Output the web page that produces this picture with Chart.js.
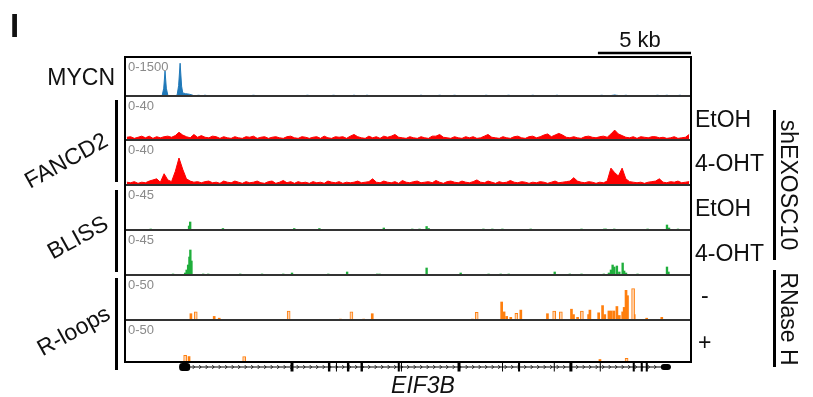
<!DOCTYPE html>
<html><head><meta charset="utf-8">
<script src="https://cdn.jsdelivr.net/npm/chart.js@4/dist/chart.umd.min.js"></script>
<style>
html,body{margin:0;padding:0;background:#fff;}
#wrap{position:relative;width:813px;height:397px;overflow:hidden;font-family:"Liberation Sans",Arial,Helvetica,sans-serif;color:#111;}
#c{position:absolute;left:0;top:0;}
.lbl{position:absolute;font-size:23px;line-height:23px;white-space:nowrap;}
.rotl{transform-origin:100% 50%;transform:rotate(-29deg);}
.rotr{transform:translate(-50%,-50%) rotate(90deg);}
.brk{position:absolute;background:#000;width:3px;}
.rng{position:absolute;font-size:13px;line-height:13px;color:#8a8a8a;white-space:nowrap;}
</style></head>
<body><div id="wrap">
<canvas id="c" width="813" height="397"></canvas>
<div class="lbl" style="left:10px;top:9px;font-size:33px;line-height:33px;font-weight:bold;">I</div>
<div class="lbl" style="left:640px;top:29px;font-size:22px;line-height:22px;transform:translateX(-50%);">5 kb</div>
<div class="lbl" style="right:698px;top:65.5px;">MYCN</div>
<div class="lbl rotl" style="right:707px;top:126.5px;">FANCD2</div>
<div class="lbl rotl" style="right:707px;top:209.5px;">BLISS</div>
<div class="lbl rotl" style="right:705px;top:299.5px;">R-loops</div>
<div class="lbl" style="left:695px;top:107.5px;">EtOH</div>
<div class="lbl" style="left:695px;top:152px;">4-OHT</div>
<div class="lbl" style="left:695px;top:197px;">EtOH</div>
<div class="lbl" style="left:695px;top:242px;">4-OHT</div>
<div class="lbl" style="left:701px;top:284px;">-</div>
<div class="lbl" style="left:698px;top:331px;">+</div>
<div class="lbl rotr" style="left:788px;top:185px;">shEXOSC10</div>
<div class="lbl rotr" style="left:788px;top:319px;">RNase H</div>
<div class="lbl" style="left:423px;top:374px;font-style:italic;transform:translateX(-50%);">EIF3B</div>
<div class="brk" style="left:115px;top:100px;height:82px;"></div>
<div class="brk" style="left:115px;top:190px;height:82px;"></div>
<div class="brk" style="left:115px;top:278px;height:92px;"></div>
<div class="brk" style="left:773px;top:110px;height:150px;"></div>
<div class="brk" style="left:773px;top:270px;height:97px;"></div>
</div>
<script>
// ---------- data ----------
const regionKb = 30.4;
const scaleBarKb = 5;
const trackIds = ['yMycn','yFancEtoh','yFancOht','yBlissEtoh','yBlissOht','yRlMinus','yRlPlus'];
const trackMax = [1500, 40, 40, 45, 45, 50, 50];
const rangeLabels = ['0-1500','0-40','0-40','0-45','0-45','0-50','0-50'];

const mycnPos = [0, 1.90, 2.00, 2.08, 2.15, 2.22, 2.30, 2.40, 2.70, 2.80, 2.88, 2.96, 3.04, 3.10, 3.25, 3.45, 3.60, 3.75, 30.4];
const mycnVal = [0, 0, 30, 300, 960, 300, 30, 0, 0, 40, 400, 1260, 380, 120, 90, 70, 40, 0, 0];
const mycnSpeckPos = [3.95, 4.3, 6.9, 9.8, 11.2, 12.3, 13.0, 15.9, 16.9, 17.7, 19.4, 20.6, 21.9, 23.2, 25.6, 26.2, 26.3, 26.4, 26.9, 28.6, 29.1, 29.8];
const mycnSpeckVal = [40, 40, 40, 40, 40, 40, 40, 40, 40, 40, 40, 40, 40, 40, 40, 40, 60, 40, 40, 40, 40, 40];

const fancBinKb = 0.2;
const fancEtoh = [
 2.5,3,1.5,2.5,3.5,2,3.5,1.5,3,2,
 3,3.5,2.5,4,7,4.5,3,2,5,2.5,
 4,2.5,2,3.5,3,1.5,3,2,1.5,3,
 2,1.5,3,2.5,3.5,1.5,2.5,3,1.5,2.5,
 3,2,1.5,3,3.5,2,1.5,3,2.5,1.5,
 2.5,3,1.5,3.5,2,1.5,3,2.5,3,1.5,
 3.5,5,3,2,1.5,3.5,2,3,1.5,3.5,
 2.5,3.5,5,2.5,2,1.5,3,2,1.5,3,
 2,1.5,3.5,3.5,5,2.5,2,1.5,3,2,
 1.5,3,2,3,1.5,2,3.5,5,2.5,2,
 1.5,3,2,1.5,3,3.5,2,1.5,3,3.5,
 2,3,4.5,5.5,3,4.5,6,4.5,2.5,2,
 3,2,1.5,3,3.5,2.5,2,3,3.5,2.5,
 5.5,9,5.5,4,2.5,2,3,1.5,3,2.5,
 2,3,3,2,2.5,1.5,2,3,1.5,2,2.5,5];
const fancOht = [
 2.5,2,3,1.5,2.5,2,3.5,4.5,5.5,2.5,
 10,4.5,3,12,24,14,5.5,3.5,2.5,3,
 2,3,3.5,2,2.5,1.5,3.5,2.5,2,3.5,
 2.5,1.5,3,2,2.5,3.5,2,1.5,3,3.5,
 1.5,2.5,4,2,3,1.5,3,2,2.5,1.5,
 3,2,2.5,1.5,3.5,2.5,2,3,1.5,2.5,
 2,2.5,3.5,2,2.5,3,5.5,2.5,2,3.5,
 2.5,2,3,1.5,4,2.5,2,3,3.5,2,
 2.5,3,2,4,2.5,1.5,3,3.5,2.5,2,
 3.5,2.5,2,3,4.5,2.5,2,3.5,2.5,1.5,
 3,2,2.5,4,2.5,2,3,2.5,1.5,2.5,
 2,3,2.5,1.5,2.5,3.5,2,2.5,3,3.5,
 6.5,3.5,2.5,2,3,2.5,1.5,2.5,2,3.5,
 15,11,8,15,5.5,3,2.5,2,2.5,1.5,
 2.5,3,3.5,5.5,2.5,2,3,2.5,3.5,2,2.5,3];

const blissEtohPos = [1.38, 3.44, 3.50, 5.26, 9.09, 10.44, 13.90, 15.43, 15.82, 16.20, 16.31, 19.25, 19.73, 20.27, 21.79, 24.52, 25.74, 25.83, 26.28, 28.07, 29.11, 29.22, 29.70];
const blissEtohVal = [1, 4, 8, 1.5, 1.5, 1.5, 2, 1, 1, 3.5, 1.5, 1, 1, 1, 1, 1, 1, 1, 1, 1, 5, 2, 1];
const blissOhtPos = [2.58, 3.23, 3.31, 3.39, 3.46, 3.51, 3.57, 4.20, 4.47, 6.19, 7.36, 8.50, 8.97, 10.92, 11.93, 13.54, 13.67, 16.20, 18.03, 19.53, 20.18, 20.61, 23.08, 23.89, 24.52, 25.72, 25.99, 26.10, 26.19, 26.28, 26.42, 26.55, 26.73, 26.81, 26.91, 27.53, 29.11, 29.19];
const blissOhtVal = [1, 2, 5, 10, 18, 25, 14, 1, 1, 1, 1, 1, 2, 1, 3, 1, 1, 7, 2, 1, 1, 1, 3, 1, 1, 1, 2, 5, 10, 8, 9, 3, 12, 4, 2, 1, 8, 3];

const rlMinusSolidPos = [3.54, 4.79, 5.06, 11.57, 12.82, 13.28, 18.66, 20.23, 20.36, 20.50, 20.72, 21.26, 22.69, 23.98, 24.09, 24.31, 24.90, 24.97, 25.44, 25.65, 25.77, 25.99, 26.12, 26.26, 26.42, 26.55, 26.73, 26.81, 26.91, 26.99, 27.35, 28.02, 28.83];
const rlMinusSolidVal = [7, 4, 2, 1, 1, 7, 1, 20, 9, 4, 3, 11, 7, 12, 6, 3, 6, 11, 8, 16, 6, 10, 10, 10, 15, 5, 9, 14, 33, 27, 6, 2, 3];
const rlMinusLightPos = [3.80, 8.79, 12.16, 18.89, 21.02, 23.05, 23.41, 24.54, 27.29];
const rlMinusLightVal = [9, 10, 9, 8.5, 7.5, 10, 9, 10, 35];
const rlPlusSolidPos = [3.44, 25.51];
const rlPlusSolidVal = [6.5, 3];
const rlPlusLightPos = [3.23, 6.40, 26.94];
const rlPlusLightVal = [8, 6.5, 4.5];

const geneStartKb = 2.91, geneEndKb = 29.32;
const geneUtr = [[2.91, 3.50], [28.78, 29.32]];
const geneExons = [[8.89,9.05],[10.90,11.03],[11.33,11.38],[11.92,12.05],[12.65,12.78],[14.65,14.76],[14.82,14.87],[17.86,18.02],[20.25,20.30],[21.11,21.22],[23.03,23.08],[23.87,24.03],[25.50,25.55],[27.27,27.38],[27.70,27.81],[27.97,28.08]];

// ---------- build ----------
const pts = (xs, ys) => xs.map((x, i) => ({x, y: ys[i]}));
const binPts = arr => arr.map((v, i) => ({x: (i + 0.5) * fancBinKb, y: v}));
const trackWeights = [39, 44, 45, 45, 45, 45, 42];

const BLUE = '#1f78b8', RED = '#ff0000', GREEN = '#1fae3c', ORANGE = '#ff7f0e', LIGHT = '#ffd3ae';

function lineDs(data, axis, color){
  return {type:'line', data, yAxisID:axis, borderColor:color, backgroundColor:color, borderWidth:1, pointRadius:0, tension:0, fill:'origin'};
}
function barDs(data, axis, color, thick, border){
  return {type:'bar', data, yAxisID:axis, backgroundColor:color, borderColor:border || color, borderWidth:border ? 1 : 0, barThickness:thick, borderSkipped:'start'};
}

const datasets = [
  lineDs(pts(mycnPos, mycnVal), 'yMycn', BLUE),
  barDs(pts(mycnSpeckPos, mycnSpeckVal), 'yMycn', '#7fb3d8', 1.5),
  lineDs(binPts(fancEtoh), 'yFancEtoh', RED),
  lineDs(binPts(fancOht), 'yFancOht', RED),
  barDs(pts(blissEtohPos, blissEtohVal), 'yBlissEtoh', GREEN, 1.7),
  barDs(pts(blissOhtPos, blissOhtVal), 'yBlissOht', GREEN, 1.7),
  barDs(pts(rlMinusLightPos, rlMinusLightVal), 'yRlMinus', LIGHT, 3, ORANGE),
  barDs(pts(rlMinusSolidPos, rlMinusSolidVal), 'yRlMinus', ORANGE, 2),
  barDs(pts(rlPlusLightPos, rlPlusLightVal), 'yRlPlus', LIGHT, 3, ORANGE),
  barDs(pts(rlPlusSolidPos, rlPlusSolidVal), 'yRlPlus', ORANGE, 2)
];

const scales = {x:{type:'linear', min:0, max:regionKb, display:false, offset:false, stacked:true}};
trackIds.forEach((id, i) => {
  scales[id] = {type:'linear', position:'right', stack:'tracks', stackWeight:trackWeights[i], min:0, max:trackMax[i], display:false};
});

const trackFrame = {
  id:'trackFrame',
  afterDatasetsDraw(chart){
    const ctx = chart.ctx, a = chart.chartArea, xs = chart.scales.x;
    const px = v => xs.getPixelForValue(v);
    ctx.save();
    ctx.strokeStyle = '#333'; ctx.lineWidth = 2;
    trackIds.slice(0, -1).forEach(id => {
      const y = chart.scales[id].bottom;
      ctx.beginPath(); ctx.moveTo(a.left, y); ctx.lineTo(a.right, y); ctx.stroke();
    });
    ctx.strokeStyle = '#000'; ctx.lineWidth = 2;
    ctx.strokeRect(a.left, a.top, a.right - a.left, a.bottom - a.top);
    // scale bar
    ctx.lineWidth = 2.5;
    ctx.beginPath(); ctx.moveTo(px(regionKb - scaleBarKb), a.top - 4); ctx.lineTo(px(regionKb), a.top - 4); ctx.stroke();
    // gene model
    const gy = a.bottom + 5;
    const g0 = px(geneStartKb), g1 = px(geneEndKb);
    ctx.fillStyle = '#000';
    ctx.fillRect(g0, gy - 0.5, g1 - g0, 1);
    ctx.lineWidth = 0.8; ctx.strokeStyle = '#000';
    for (let x = g0 + 15; x < g1 - 12; x += 6.5) {
      ctx.beginPath(); ctx.moveTo(x - 1.5, gy - 2); ctx.lineTo(x + 0.5, gy); ctx.lineTo(x - 1.5, gy + 2); ctx.stroke();
    }
    geneUtr.forEach(([s, e], k) => {
      const h = k === 0 ? 8 : 6;
      ctx.beginPath(); ctx.roundRect(px(s), gy - h / 2, px(e) - px(s), h, 3); ctx.fill();
    });
    geneExons.forEach(([s, e]) => {
      const x0 = px(s), w = Math.max(1, px(e) - x0);
      ctx.fillRect(x0, gy - 4.5, w, 9);
    });
    ctx.restore();
  }
};

const chart = new Chart(document.getElementById('c'), {
  type:'line',
  data:{datasets},
  options:{
    responsive:false, animation:false, devicePixelRatio:1, events:[],
    layout:{padding:{left:125, right:122, top:57, bottom:35}},
    plugins:{legend:{display:false}, tooltip:{enabled:false}},
    scales
  },
  plugins:[trackFrame]
});

const wrap = document.getElementById('wrap');
trackIds.forEach((id, i) => {
  const s = chart.scales[id];
  const d = document.createElement('div');
  d.className = 'rng';
  d.style.left = (chart.chartArea.left + 3) + 'px';
  d.style.top = (s.top + 3) + 'px';
  d.textContent = rangeLabels[i];
  wrap.appendChild(d);
});
</script>
</body></html>
